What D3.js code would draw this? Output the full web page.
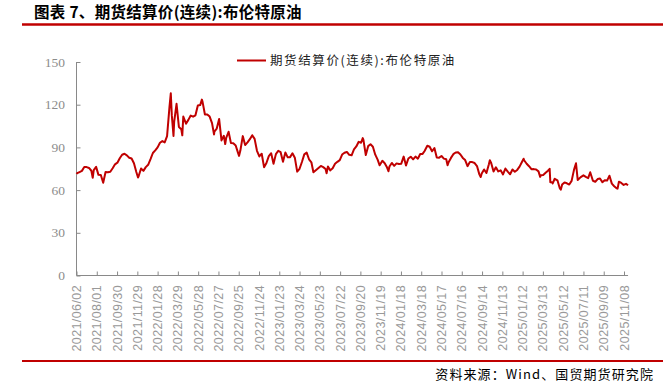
<!DOCTYPE html>
<html>
<head>
<meta charset="utf-8">
<script src="https://cdnjs.cloudflare.com/ajax/libs/d3/7.8.5/d3.min.js"></script>
<style>
  html, body { margin: 0; padding: 0; background: #fff; }
  svg { display: block; }
</style>
</head>
<body>
<div id="chart"></div>
<script>
'use strict';

// chart data (weekly-ish settlement)
var title = '图表 7、期货结算价(连续):布伦特原油';
var seriesName = '期货结算价(连续):布伦特原油';
var source = '资料来源：Wind、国贸期货研究院';

var yTicks = [0, 30, 60, 90, 120, 150];

var xTickLabels = [
  '2021/06/02', '2021/08/01', '2021/09/30', '2021/11/29',
  '2022/01/28', '2022/03/29', '2022/05/28', '2022/07/27', '2022/09/25', '2022/11/24',
  '2023/01/23', '2023/03/24', '2023/05/23', '2023/07/22', '2023/09/20', '2023/11/19',
  '2024/01/18', '2024/03/18', '2024/05/17', '2024/07/16', '2024/09/14', '2024/11/13',
  '2025/01/12', '2025/03/13', '2025/05/12', '2025/07/11', '2025/09/09', '2025/11/08'
];

var dates = [
  '2021-06-02', '2021-06-04', '2021-06-11', '2021-06-18', '2021-06-25', '2021-07-02', '2021-07-09', '2021-07-16',
  '2021-07-20', '2021-07-23', '2021-07-30', '2021-08-06', '2021-08-13', '2021-08-20', '2021-08-27', '2021-09-03',
  '2021-09-10', '2021-09-17', '2021-09-24', '2021-10-01', '2021-10-08', '2021-10-15', '2021-10-22', '2021-10-29',
  '2021-11-05', '2021-11-12', '2021-11-19', '2021-11-26', '2021-12-01', '2021-12-03', '2021-12-10', '2021-12-17',
  '2021-12-24', '2021-12-31',
  '2022-01-07', '2022-01-14', '2022-01-21', '2022-01-28', '2022-02-04', '2022-02-11', '2022-02-18', '2022-02-25',
  '2022-03-04', '2022-03-08', '2022-03-11', '2022-03-16', '2022-03-18', '2022-03-25', '2022-04-01', '2022-04-08',
  '2022-04-11', '2022-04-14', '2022-04-22', '2022-04-29', '2022-05-06', '2022-05-13', '2022-05-20', '2022-05-27',
  '2022-06-03', '2022-06-08', '2022-06-10', '2022-06-17', '2022-06-24', '2022-07-01', '2022-07-08', '2022-07-14',
  '2022-07-15', '2022-07-22', '2022-07-29', '2022-08-05', '2022-08-12', '2022-08-16', '2022-08-19', '2022-08-26',
  '2022-09-02', '2022-09-09', '2022-09-16', '2022-09-23', '2022-09-26', '2022-09-30', '2022-10-07', '2022-10-14',
  '2022-10-21', '2022-10-28', '2022-11-04', '2022-11-11', '2022-11-18', '2022-11-25', '2022-12-02', '2022-12-09',
  '2022-12-16', '2022-12-23', '2022-12-30',
  '2023-01-06', '2023-01-13', '2023-01-20', '2023-01-27', '2023-02-03', '2023-02-10', '2023-02-17', '2023-02-24',
  '2023-03-03', '2023-03-10', '2023-03-17', '2023-03-24', '2023-03-31', '2023-04-07', '2023-04-14', '2023-04-21',
  '2023-04-28', '2023-05-04', '2023-05-12', '2023-05-19', '2023-05-26', '2023-06-02', '2023-06-09', '2023-06-12',
  '2023-06-16', '2023-06-23', '2023-06-30', '2023-07-07', '2023-07-14', '2023-07-21', '2023-07-28', '2023-08-04',
  '2023-08-11', '2023-08-18', '2023-08-25', '2023-09-01', '2023-09-08', '2023-09-15', '2023-09-22', '2023-09-27',
  '2023-09-29', '2023-10-06', '2023-10-13', '2023-10-20', '2023-10-27', '2023-11-03', '2023-11-10', '2023-11-16',
  '2023-11-24', '2023-12-01', '2023-12-08', '2023-12-12', '2023-12-15', '2023-12-22', '2023-12-29',
  '2024-01-05', '2024-01-12', '2024-01-19', '2024-01-26', '2024-02-02', '2024-02-09', '2024-02-16', '2024-02-23',
  '2024-03-01', '2024-03-08', '2024-03-15', '2024-03-22', '2024-03-28', '2024-04-05', '2024-04-12', '2024-04-19',
  '2024-04-26', '2024-05-03', '2024-05-10', '2024-05-17', '2024-05-24', '2024-05-31', '2024-06-04', '2024-06-07',
  '2024-06-14', '2024-06-21', '2024-06-28', '2024-07-05', '2024-07-12', '2024-07-19', '2024-07-26', '2024-08-02',
  '2024-08-09', '2024-08-16', '2024-08-23', '2024-08-30', '2024-09-06', '2024-09-10', '2024-09-13', '2024-09-20',
  '2024-09-27', '2024-10-04', '2024-10-07', '2024-10-11', '2024-10-18', '2024-10-25', '2024-11-01', '2024-11-08',
  '2024-11-15', '2024-11-22', '2024-11-29', '2024-12-06', '2024-12-13', '2024-12-20', '2024-12-27',
  '2025-01-03', '2025-01-10', '2025-01-15', '2025-01-17', '2025-01-24', '2025-01-31', '2025-02-07', '2025-02-14',
  '2025-02-21', '2025-02-28', '2025-03-05', '2025-03-07', '2025-03-14', '2025-03-21', '2025-03-28', '2025-04-02',
  '2025-04-04', '2025-04-09', '2025-04-11', '2025-04-17', '2025-04-25', '2025-05-02', '2025-05-05', '2025-05-09',
  '2025-05-16', '2025-05-23', '2025-05-30', '2025-06-06', '2025-06-13', '2025-06-19', '2025-06-24', '2025-06-27',
  '2025-07-03', '2025-07-11', '2025-07-18', '2025-07-25', '2025-07-31', '2025-08-08', '2025-08-15', '2025-08-22',
  '2025-08-29', '2025-09-05', '2025-09-12', '2025-09-19', '2025-09-26', '2025-10-03', '2025-10-10', '2025-10-17',
  '2025-10-20', '2025-10-24', '2025-10-31', '2025-11-07', '2025-11-14', '2025-11-20'
];

var prices = [
  71.35, 71.89, 72.69, 73.51, 76.18, 76.17, 75.55, 73.59,
  68.62, 74.10, 76.33, 70.70, 70.59, 65.18, 72.70, 72.61,
  72.92, 75.34, 78.09, 79.28, 82.39, 84.86, 85.53, 84.38,
  82.74, 82.17, 78.89, 72.72, 68.87, 69.88, 75.15, 73.52,
  76.14, 77.78,
  81.75, 86.06, 87.89, 90.03, 93.27, 94.44, 93.54, 97.93,
  118.11, 127.98, 112.67, 98.02, 107.93, 120.65, 104.39, 102.78,
  98.48, 111.70, 106.65, 109.34, 112.39, 111.55, 112.55, 119.43,
  119.72, 123.58, 122.01, 113.12, 113.12, 111.63, 107.02, 99.10,
  101.16, 103.20, 110.01, 94.92, 98.15, 92.34, 96.72, 100.99,
  93.02, 92.84, 91.35, 86.15, 84.06, 87.96, 97.92, 91.63,
  93.50, 95.77, 98.57, 95.99, 87.62, 83.63, 85.57, 76.10,
  79.04, 83.92, 85.91,
  78.57, 85.28, 87.63, 86.66, 79.94, 86.39, 83.00, 83.16,
  85.83, 82.78, 72.97, 74.99, 79.77, 85.12, 86.31, 81.66,
  79.54, 72.50, 74.17, 75.58, 76.95, 76.13, 74.79, 71.84,
  76.61, 73.85, 75.41, 78.47, 79.87, 81.07, 84.99, 86.24,
  86.81, 84.80, 84.48, 88.55, 90.65, 93.93, 93.27, 96.55,
  95.31, 84.58, 90.89, 92.16, 90.48, 84.89, 81.43, 77.42,
  80.58, 78.88, 75.84, 73.24, 76.55, 79.07, 77.04,
  78.76, 78.29, 78.56, 83.55, 77.33, 82.19, 83.47, 81.62,
  83.55, 82.08, 85.34, 85.43, 87.48, 91.17, 90.45, 87.29,
  89.50, 82.96, 82.79, 83.98, 82.12, 81.62, 77.52, 79.62,
  82.62, 85.24, 86.41, 86.54, 85.03, 82.63, 81.13, 76.81,
  79.66, 79.68, 79.02, 76.93, 71.06, 69.19, 71.61, 74.49,
  71.98, 78.05, 80.93, 79.04, 73.06, 76.05, 73.10, 73.87,
  71.04, 75.17, 72.94, 71.12, 74.49, 72.94, 74.17,
  76.51, 79.76, 82.03, 80.79, 78.50, 76.76, 74.66, 74.74,
  74.43, 73.18, 69.30, 70.36, 70.58, 72.16, 73.63, 74.95,
  65.58, 65.48, 64.76, 67.96, 66.87, 61.29, 60.23, 63.91,
  65.41, 64.78, 63.90, 66.47, 74.23, 78.85, 67.14, 67.77,
  69.11, 70.36, 69.28, 68.44, 72.53, 66.59, 65.85, 67.73,
  68.12, 65.50, 66.99, 66.68, 70.13, 64.53, 62.73, 61.29,
  61.01, 65.94, 65.07, 63.63, 64.39, 63.38
];

var W = 663, H = 384;
var red = '#c00000', axisGray = '#898989', textGray = '#8c8c8c';
var cjk = '"Noto Sans CJK SC", "Noto Sans", sans-serif';

var parseDate = d3.timeParse('%Y-%m-%d');
var parseTick = d3.timeParse('%Y/%m/%d');

var data = dates.map(function(d, i) {
  return { date: parseDate(d), value: prices[i] };
});
var tickDates = xTickLabels.map(function(s) { return parseTick(s); });

var svg = d3.select('#chart')
  .append('svg')
  .attr('width', W)
  .attr('height', H);

// title + red rules
svg.append('text')
  .attr('x', 34)
  .attr('y', 18)
  .attr('font-family', cjk)
  .attr('font-weight', 'bold')
  .attr('font-size', 15.5)
  .attr('letter-spacing', 0.3)
  .attr('fill', '#000')
  .text(title);

svg.append('line')
  .attr('x1', 22).attr('x2', W)
  .attr('y1', 24.5).attr('y2', 24.5)
  .attr('stroke', red).attr('stroke-width', 2.5);

svg.append('line')
  .attr('x1', 22).attr('x2', W)
  .attr('y1', 361).attr('y2', 361)
  .attr('stroke', red).attr('stroke-width', 2);

svg.append('text')
  .attr('x', 654)
  .attr('y', 379)
  .attr('text-anchor', 'end')
  .attr('font-family', cjk)
  .attr('font-size', 13)
  .attr('letter-spacing', 1.1)
  .attr('fill', '#000')
  .text(source);

// scales
var x = d3.scaleTime()
  .domain([tickDates[0], tickDates[tickDates.length - 1]])
  .range([76.5, 624]);

var y = d3.scaleLinear()
  .domain([0, 150])
  .range([275.5, 62]);

var xEnd = x(data[data.length - 1].date);

// y axis
var yAxis = svg.append('g')
  .attr('transform', 'translate(76.5,0)')
  .call(d3.axisRight(y).tickValues(yTicks).tickSize(4).tickFormat(''));
yAxis.select('.domain').attr('d', 'M0,62V275.5');
yAxis.selectAll('line, path').attr('stroke', axisGray);

svg.append('g')
  .selectAll('text')
  .data(yTicks)
  .join('text')
  .attr('x', 65)
  .attr('y', function(d) { return y(d) + 4.5; })
  .attr('text-anchor', 'end')
  .attr('font-family', '"Liberation Serif", serif')
  .attr('font-size', 13.5)
  .attr('fill', textGray)
  .text(function(d) { return d; });

// x axis
var xAxis = svg.append('g')
  .attr('transform', 'translate(0,275.5)')
  .call(d3.axisTop(x).tickValues(tickDates).tickSize(4).tickFormat(''));
xAxis.select('.domain').attr('d', 'M76.5,0H' + xEnd);
xAxis.selectAll('line, path').attr('stroke', axisGray);

svg.append('g')
  .selectAll('text')
  .data(tickDates)
  .join('text')
  .attr('transform', function(d) {
    return 'translate(' + (x(d) + 4.5) + ',285) rotate(-90)';
  })
  .attr('text-anchor', 'end')
  .attr('font-family', '"Liberation Sans", Arial, sans-serif')
  .attr('font-size', 12.5)
  .attr('letter-spacing', 0.4)
  .attr('fill', '#999')
  .text(function(d, i) { return xTickLabels[i]; });

// series
var line = d3.line()
  .x(function(d) { return x(d.date); })
  .y(function(d) { return y(d.value); });

svg.append('path')
  .datum(data)
  .attr('d', line)
  .attr('fill', 'none')
  .attr('stroke', red)
  .attr('stroke-width', 2)
  .attr('stroke-linejoin', 'round');

// legend
svg.append('line')
  .attr('x1', 237).attr('x2', 266)
  .attr('y1', 60.5).attr('y2', 60.5)
  .attr('stroke', red).attr('stroke-width', 2);

svg.append('text')
  .attr('x', 270)
  .attr('y', 65)
  .attr('font-family', cjk)
  .attr('font-size', 12.5)
  .attr('letter-spacing', 1.6)
  .attr('fill', '#222')
  .text(seriesName);
</script>
</body>
</html>
